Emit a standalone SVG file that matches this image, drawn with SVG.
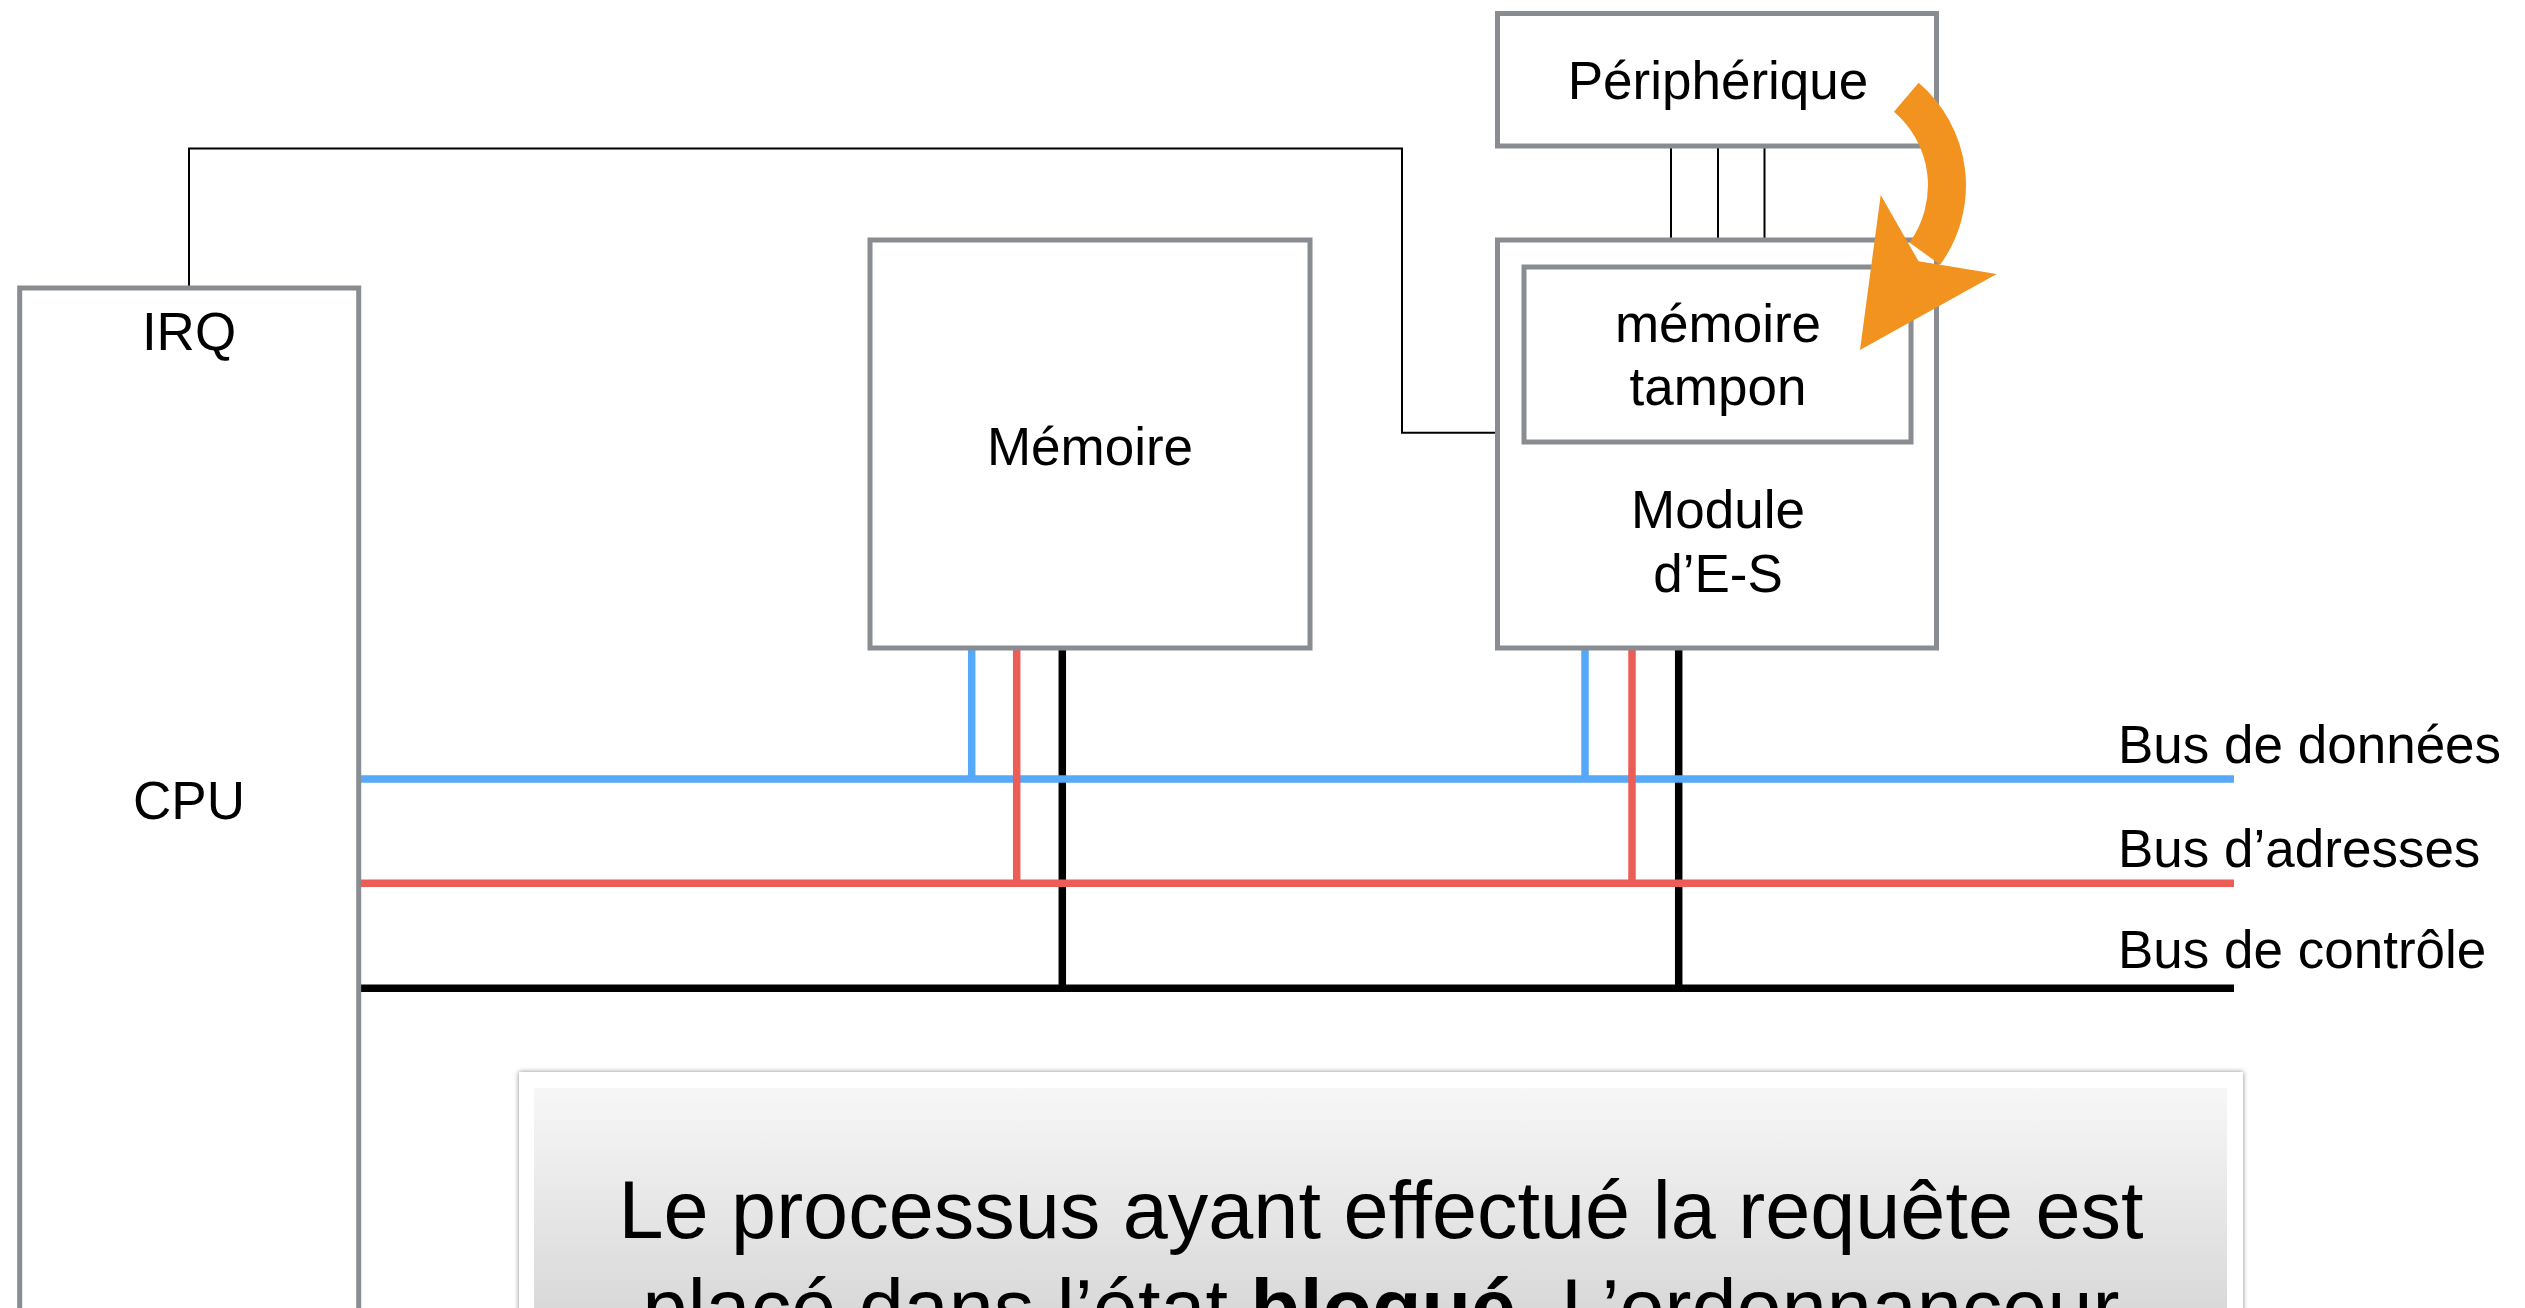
<svg xmlns="http://www.w3.org/2000/svg" width="2525" height="1308" viewBox="0 0 2525 1308">
<defs>
<style>
.box{fill:#fff;stroke:#898c90;stroke-width:5}
.t{font-family:"Liberation Sans",Arial,Helvetica,sans-serif;font-size:53px;fill:#000;text-anchor:middle}
.wire{fill:none;stroke:#000;stroke-width:2}
.blue{stroke:#55a8fa;stroke-width:7.5;fill:none}
.red{stroke:#ec5d57;stroke-width:7.5;fill:none}
.black{stroke:#000;stroke-width:7.5;fill:none}
</style>
<linearGradient id="grad" gradientUnits="userSpaceOnUse" x1="0" y1="1088" x2="0" y2="1308">
<stop offset="0" stop-color="#f7f7f7"/>
<stop offset="1" stop-color="#d9d9d9"/>
</linearGradient>
<filter id="shadow" x="-5%" y="-20%" width="110%" height="140%">
<feDropShadow dx="0" dy="0" stdDeviation="2.5" flood-color="#555" flood-opacity="0.7"/>
</filter>
</defs>
<rect width="2525" height="1308" fill="#fff"/>

<g id="connectors">
<polyline class="wire" points="189,288 189,148.5 1402,148.5 1402,432.7 1496,432.7"/>
<line class="wire" x1="1671" y1="146" x2="1671" y2="240"/>
<line class="wire" x1="1718" y1="146" x2="1718" y2="240"/>
<line class="wire" x1="1764.5" y1="146" x2="1764.5" y2="240"/>
<line class="black" x1="361" y1="988.3" x2="2234" y2="988.3"/>
<line class="black" x1="1062.3" y1="650" x2="1062.3" y2="992"/>
<line class="black" x1="1678.7" y1="650" x2="1678.7" y2="992"/>
<line class="blue" x1="971.7" y1="650" x2="971.7" y2="782"/>
<line class="blue" x1="1585" y1="650" x2="1585" y2="782"/>
<line class="blue" x1="361" y1="779" x2="2234" y2="779"/>
<line class="red" x1="1016.7" y1="650" x2="1016.7" y2="887"/>
<line class="red" x1="1632" y1="650" x2="1632" y2="887"/>
<line class="red" x1="361" y1="883.3" x2="2234" y2="883.3"/>
</g>

<g id="cpu">
<rect class="box" x="19.7" y="288" width="339" height="1100"/>
<text class="t" x="189" y="350">IRQ</text>
<text class="t" x="189" y="819">CPU</text>
</g>

<g id="memoire">
<rect class="box" x="870" y="240" width="440" height="408"/>
<text class="t" x="1090" y="465">Mémoire</text>
</g>

<g id="peripherique">
<rect class="box" x="1497.5" y="13.5" width="439" height="132.5"/>
<text class="t" x="1718" y="99">Périphérique</text>
</g>

<g id="module">
<rect class="box" x="1497.5" y="240" width="439" height="408"/>
<text class="t" x="1718" y="528">Module</text>
<text class="t" x="1718" y="592">d’E-S</text>
</g>

<g id="tampon">
<rect class="box" x="1524" y="267" width="387" height="175"/>
<text class="t" x="1718" y="342">mémoire</text>
<text class="t" x="1718" y="405">tampon</text>
</g>

<g id="arrow">
<path d="M1906.3,97.2 A116,116 0 0,1 1924.8,253.6" fill="none" stroke="#f2931f" stroke-width="38"/>
<polygon points="1880.7,195 1918.6,261.3 1996.7,274 1860,350" fill="#f2931f"/>
</g>

<g id="bus-labels">
<text class="t" x="2118" y="763" style="text-anchor:start">Bus de données</text>
<text class="t" x="2118" y="867" style="text-anchor:start">Bus d’adresses</text>
<text class="t" x="2118" y="968" style="text-anchor:start">Bus de contrôle</text>
</g>

<g id="callout">
<rect x="519" y="1072" width="1724" height="300" fill="#fff" filter="url(#shadow)"/>
<rect x="534" y="1088" width="1693" height="284" fill="url(#grad)"/>
<text class="t" x="1381" y="1238" style="font-size:81px">Le processus ayant effectué la requête est</text>
<text class="t" x="1381" y="1336" style="font-size:81px">placé dans l’état <tspan font-weight="bold">bloqué</tspan>. L’ordonnanceur</text>
</g>
</svg>
